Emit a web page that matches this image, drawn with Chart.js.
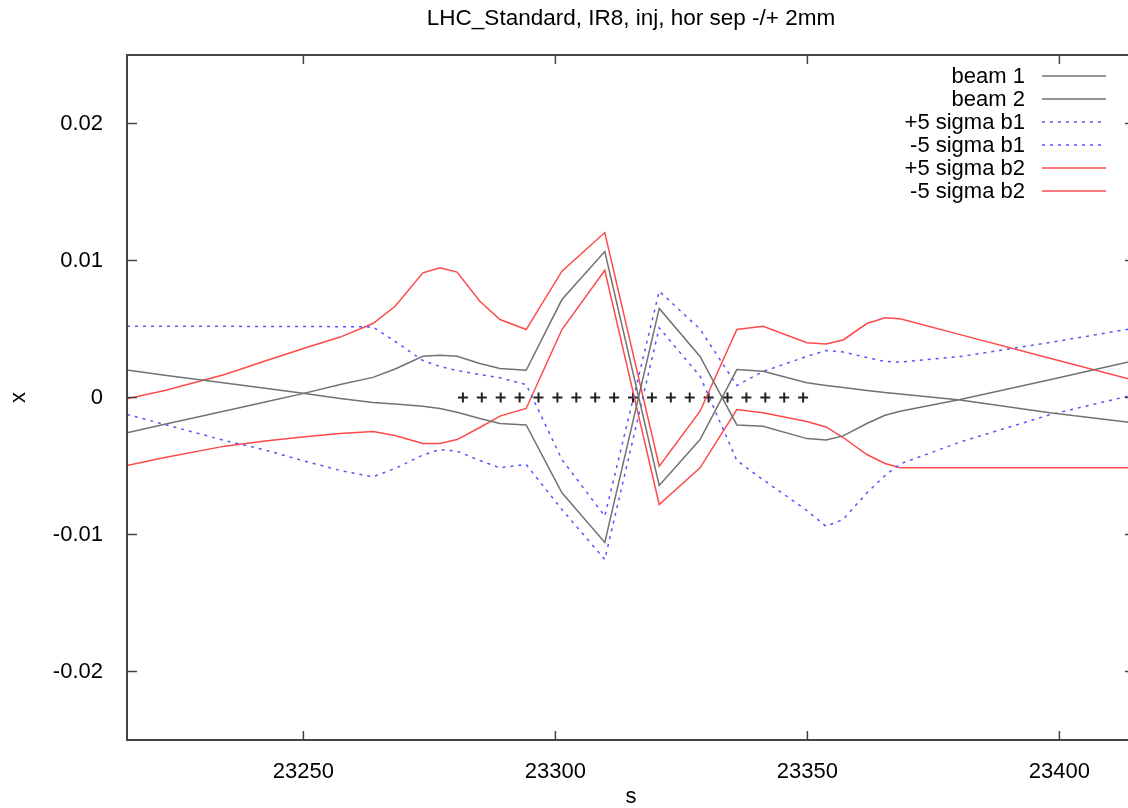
<!DOCTYPE html>
<html>
<head>
<meta charset="utf-8">
<script src="https://cdn.jsdelivr.net/npm/chart.js@4.4.1/dist/chart.umd.min.js"></script>
<style>
  html, body { margin: 0; padding: 0; background: #fff; overflow: hidden; }
  #wrap { width: 1150px; height: 808px; }
</style>
</head>
<body>
<div id="wrap"><canvas id="beamChart" width="1150" height="808"></canvas></div>
<script>
const chartTitle = 'LHC_Standard, IR8, inj, hor sep -/+ 2mm';

// s positions (m) where the curves were read
const sPos = [23215.0, 23222.5, 23234.4, 23242.4, 23250.3, 23257.3, 23263.8, 23268.2, 23273.7, 23277.1,
              23280.5, 23285.0, 23289.0, 23294.2, 23301.3, 23309.8, 23320.6, 23328.7, 23336.0, 23341.2,
              23349.9, 23353.7, 23357.1, 23361.8, 23365.4, 23368.4, 23380.3, 23398.1, 23415.0];

const beam1 = [0.0020, 0.00163, 0.00106, 0.00067, 0.00029, -0.00007, -0.00036, -0.00047, -0.00064, -0.00080,
               -0.00107, -0.00153, -0.00190, -0.00200, -0.00696, -0.01058, 0.00650, 0.00300, -0.00200, -0.00210,
               -0.00300, -0.00310, -0.00280, -0.00190, -0.00130, -0.00100, -0.00015, 0.00130, 0.00270];
const beam2 = [-0.00258, -0.00196, -0.00098, -0.00033, 0.00032, 0.00095, 0.00147, 0.00208, 0.00301, 0.00309,
               0.00301, 0.00248, 0.00212, 0.00199, 0.00715, 0.01066, -0.00642, -0.00307, 0.00204, 0.00192,
               0.00107, 0.00088, 0.00073, 0.00051, 0.00036, 0.00026, -0.00018, -0.00112, -0.00186];
const sig1Plus = [0.0052, 0.0052, 0.0052, 0.00518, 0.00518, 0.00517, 0.00515, 0.00409, 0.0027, 0.00226,
                  0.00197, 0.00168, 0.00144, 0.00095, -0.00453, -0.00866, 0.00776, 0.00499, 0.00088, 0.0019,
                  0.0030, 0.00343, 0.00332, 0.00292, 0.00263, 0.00258, 0.00299, 0.00401, 0.00507];
const sig1Minus = [-0.00124, -0.00197, -0.00314, -0.00383, -0.00465, -0.00533, -0.00579, -0.00518, -0.0042, -0.0038,
                   -0.00392, -0.0046, -0.00513, -0.00489, -0.00818, -0.01182, 0.00509, 0.00155, -0.0046, -0.006,
                   -0.00825, -0.0094, -0.0089, -0.00696, -0.0057, -0.00485, -0.00325, -0.00126, 0.00022];
const sig2Plus = [-0.0001, 0.00051, 0.00168, 0.00266, 0.00361, 0.00441, 0.0054, 0.00666, 0.0091, 0.00947,
                  0.00915, 0.00703, 0.00569, 0.00496, 0.00922, 0.01204, -0.00501, -0.001, 0.00496, 0.0052,
                  0.0040, 0.0039, 0.0042, 0.0054, 0.00582, 0.00574, 0.00459, 0.00286, 0.00123];
const sig2Minus = [-0.00496, -0.00438, -0.00355, -0.00318, -0.00287, -0.00263, -0.00248, -0.00277, -0.00336, -0.00336,
                   -0.00307, -0.00219, -0.00136, -0.0008, 0.00496, 0.00929, -0.00781, -0.00513, -0.00088, -0.00112,
                   -0.00175, -0.00215, -0.00292, -0.00416, -0.00482, -0.00513, -0.00513, -0.00513, -0.00513];

// beam-beam encounter points around IP8
const encS = [23281.65, 23285.4, 23289.15, 23292.9, 23296.65, 23300.4, 23304.15, 23307.9, 23311.65, 23315.4,
              23319.15, 23322.9, 23326.65, 23330.4, 23334.15, 23337.9, 23341.65, 23345.4, 23349.15];
const encX = [0, 0, 0, 0, 0, 0, 0, 0, 0, 0, 0, 0, 0, 0, 0, 0, 0, 0, 0];

const xTicks = [23250, 23300, 23350, 23400];
const yTicks = [-0.02, -0.01, 0, 0.01, 0.02];

const FONT = "'Liberation Sans', Arial, Helvetica, sans-serif";
const pts = (xs, ys) => xs.map((s, i) => ({ x: s, y: ys[i] }));

function line(label, ys, color, dash) {
    return {
        label: label,
        data: pts(sPos, ys),
        showLine: true,
        borderColor: color,
        borderWidth: 1.5,
        borderDash: dash || [],
        pointRadius: 0,
        tension: 0
    };
}

// gnuplot style frame with inward ticks on all four sides
const framePlugin = {
    id: 'frame',
    afterDatasetsDraw(chart) {
        const { ctx, chartArea: a, scales } = chart;
        ctx.save();
        ctx.strokeStyle = '#444';
        ctx.lineWidth = 2;
        ctx.strokeRect(a.left, a.top, a.right - a.left, a.bottom - a.top);
        ctx.lineWidth = 1.5;
        ctx.beginPath();
        xTicks.forEach(v => {
            const px = scales.x.getPixelForValue(v);
            ctx.moveTo(px, a.bottom); ctx.lineTo(px, a.bottom - 9);
            ctx.moveTo(px, a.top); ctx.lineTo(px, a.top + 9);
        });
        yTicks.forEach(v => {
            const py = scales.y.getPixelForValue(v);
            ctx.moveTo(a.left, py); ctx.lineTo(a.left + 10, py);
            ctx.moveTo(a.right, py); ctx.lineTo(a.right - 10, py);
        });
        ctx.stroke();
        ctx.restore();
    }
};

// key in the top right corner: text right-aligned, sample line after it
const keyPlugin = {
    id: 'key',
    afterDraw(chart) {
        const { ctx, chartArea: a } = chart;
        ctx.save();
        ctx.font = '22px ' + FONT;
        ctx.textAlign = 'right';
        ctx.textBaseline = 'middle';
        let row = 0;
        chart.data.datasets.forEach(ds => {
            if (!ds.showLine) return;
            const y = a.top + 21 + row * 23;
            ctx.fillStyle = '#000';
            ctx.fillText(ds.label, a.right - 110, y + 1);
            ctx.strokeStyle = ds.borderColor;
            ctx.lineWidth = ds.borderWidth;
            ctx.setLineDash(ds.borderDash);
            ctx.beginPath();
            ctx.moveTo(a.right - 93, y);
            ctx.lineTo(a.right - 29, y);
            ctx.stroke();
            ctx.setLineDash([]);
            row++;
        });
        ctx.restore();
    }
};

// title centred over the plot area
const titlePlugin = {
    id: 'plotTitle',
    afterDraw(chart) {
        const { ctx, chartArea: a } = chart;
        ctx.save();
        ctx.font = '22.5px ' + FONT;
        ctx.fillStyle = '#000';
        ctx.textAlign = 'center';
        ctx.textBaseline = 'middle';
        ctx.fillText(chartTitle, (a.left + a.right) / 2, 19);
        ctx.restore();
    }
};

const ctx = document.getElementById('beamChart').getContext('2d');
new Chart(ctx, {
    type: 'scatter',
    data: {
        datasets: [
            line('beam 1', beam1, '#727272'),
            line('beam 2', beam2, '#727272'),
            line('+5 sigma b1', sig1Plus, '#5555ff', [3, 5]),
            line('-5 sigma b1', sig1Minus, '#5555ff', [3, 5]),
            line('+5 sigma b2', sig2Plus, '#ff4a4a'),
            line('-5 sigma b2', sig2Minus, '#ff4a4a'),
            {
                label: 'encounters',
                data: pts(encS, encX),
                showLine: false,
                pointStyle: 'cross',
                pointRadius: 5,
                borderColor: '#222',
                borderWidth: 2,
                backgroundColor: '#222'
            }
        ]
    },
    options: {
        responsive: false,
        animation: false,
        devicePixelRatio: 1,
        events: [],
        layout: { padding: { top: 55, right: 15, left: 0, bottom: 0 } },
        plugins: {
            legend: { display: false },
            title: { display: false },
            tooltip: { enabled: false }
        },
        scales: {
            x: {
                type: 'linear',
                position: 'bottom',
                min: 23215,
                max: 23415,
                afterBuildTicks: s => { s.ticks = xTicks.map(v => ({ value: v })); },
                afterFit: s => { s.height = 68; },
                grid: { display: false },
                border: { display: false },
                ticks: {
                    color: '#000',
                    font: { family: FONT, size: 22 },
                    padding: 11,
                    maxRotation: 0,
                    callback: v => String(v)
                },
                title: { display: true, text: 's', color: '#000', font: { family: FONT, size: 22, lineHeight: 1 }, padding: 0 }
            },
            y: {
                type: 'linear',
                min: -0.025,
                max: 0.025,
                afterBuildTicks: s => { s.ticks = yTicks.map(v => ({ value: v })); },
                afterFit: s => { s.width = 127; },
                grid: { display: false },
                border: { display: false },
                ticks: {
                    color: '#000',
                    font: { family: FONT, size: 22 },
                    padding: 16,
                    callback: v => String(parseFloat(v.toFixed(3)))
                },
                title: { display: true, text: 'x', color: '#000', font: { family: FONT, size: 22, lineHeight: 1 }, padding: { top: 8, bottom: 0 } }
            }
        }
    },
    plugins: [framePlugin, keyPlugin, titlePlugin]
});
</script>
</body>
</html>
